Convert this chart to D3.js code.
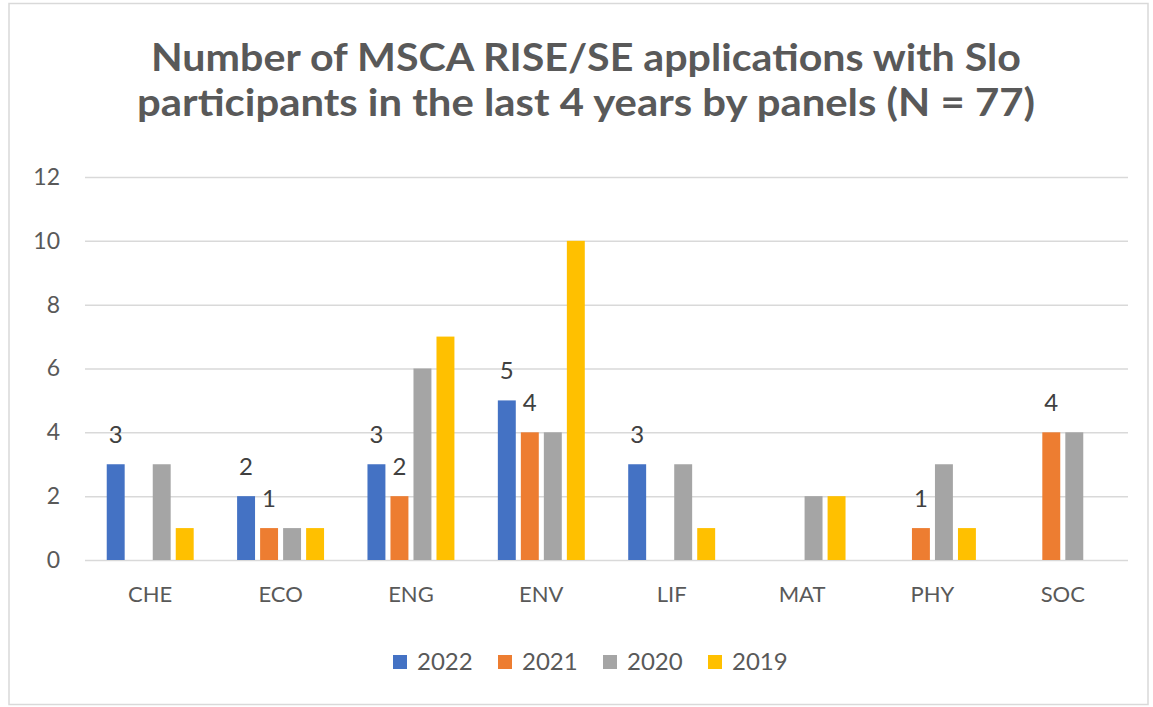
<!DOCTYPE html>
<html>
<head>
    <title>MSCA RISE/SE</title>
    <script src="https://cdn.jsdelivr.net/npm/d3@7"></script>
    <style>
        body { margin: 0; background: #fff; }
        text { font-family: Lato, "Open Sans", sans-serif; }
    </style>
</head>
<body>
    <svg width="1153" height="707" id="mainsvg"></svg>
    <script>
        // data
        const panels = ['CHE', 'ECO', 'ENG', 'ENV', 'LIF', 'MAT', 'PHY', 'SOC'];
        const years = ['2022', '2021', '2020', '2019'];
        const v2022 = [3, 2, 3, 5, 3, 0, 0, 0];
        const v2021 = [0, 1, 2, 4, 0, 0, 1, 4];
        const v2020 = [3, 1, 6, 4, 3, 2, 3, 4];
        const v2019 = [1, 1, 7, 10, 1, 2, 1, 0];
        const yTicks = [0, 2, 4, 6, 8, 10, 12];
        const labelled = ['2022', '2021']; // only these series carry data labels
        const titleLines = ['Number of MSCA RISE/SE applications with Slo',
                            'participants in the last 4 years by panels (N = 77)'];

        const colors = { '2022': '#4472C4', '2021': '#ED7D31', '2020': '#A5A5A5', '2019': '#FFC000' };
        const seriesVals = { '2022': v2022, '2021': v2021, '2020': v2020, '2019': v2019 };

        const svg = d3.select('#mainsvg');
        const width = +svg.attr('width');
        const height = +svg.attr('height');

        // chart border
        svg.append('rect')
            .attr('x', 9).attr('y', 3.5)
            .attr('width', 1139).attr('height', 701)
            .attr('fill', '#fff')
            .attr('stroke', '#d9d9d9').attr('stroke-width', 1.5);

        // title
        const titleW = [870, 898];
        const titleY = [71, 116];
        titleLines.forEach((t, i) => {
            svg.append('text')
                .attr('x', 586).attr('y', titleY[i])
                .attr('text-anchor', 'middle')
                .attr('font-size', 38).attr('font-weight', 'bold')
                .attr('fill', '#595959')
                .attr('textLength', titleW[i])
                .attr('lengthAdjust', 'spacingAndGlyphs')
                .text(t);
        });

        const plotL = 85, plotR = 1128, plotT = 177, plotB = 560;

        const x0 = d3.scaleBand().domain(panels).range([plotL, plotR])
            .paddingInner(0.333).paddingOuter(0.1667);
        const x1 = d3.scaleBand().domain(years).range([0, x0.bandwidth()])
            .paddingInner(0.22);
        const y = d3.scaleLinear().domain([0, 12]).range([plotB, plotT]);

        // gridlines + y labels
        const yAxis = d3.axisLeft(y).tickValues(yTicks).tickSize(-(plotR - plotL)).tickPadding(25);
        const yg = svg.append('g').attr('transform', `translate(${plotL},0)`).call(yAxis);
        yg.select('.domain').remove();
        yg.selectAll('.tick line').attr('stroke', '#d9d9d9').attr('stroke-width', 1.5);
        yg.selectAll('.tick text').attr('font-size', 23).attr('fill', '#595959')
            .style('font-family', 'Lato, sans-serif');

        // x labels
        const xAxis = d3.axisBottom(x0).tickSize(0).tickPadding(26);
        const xg = svg.append('g').attr('transform', `translate(0,${plotB})`).call(xAxis);
        xg.select('.domain').remove();
        xg.selectAll('.tick text').attr('font-size', 22).attr('fill', '#595959')
            .style('font-family', 'Lato, sans-serif');

        // bars
        const rows = panels.map((p, i) => ({
            panel: p,
            items: years.map(yr => ({ year: yr, value: seriesVals[yr][i] }))
        }));

        const groups = svg.append('g').selectAll('g').data(rows).join('g')
            .attr('transform', d => `translate(${x0(d.panel)},0)`);

        groups.selectAll('rect').data(d => d.items.filter(e => e.value > 0)).join('rect')
            .attr('x', d => x1(d.year))
            .attr('y', d => y(d.value))
            .attr('width', x1.bandwidth())
            .attr('height', d => y(0) - y(d.value))
            .attr('fill', d => colors[d.year]);

        groups.selectAll('text.lbl')
            .data(d => d.items.filter(e => e.value > 0 && labelled.includes(e.year)))
            .join('text').attr('class', 'lbl')
            .attr('x', d => x1(d.year) + x1.bandwidth() / 2)
            .attr('y', d => y(d.value) - 21)
            .attr('text-anchor', 'middle')
            .attr('font-size', 24).attr('fill', '#404040')
            .text(d => d.value);

        // legend
        const legend = svg.append('g').attr('transform', 'translate(393,655)');
        const li = legend.selectAll('g').data(years).join('g')
            .attr('transform', (d, i) => `translate(${i * 105},0)`);
        li.append('rect').attr('width', 14).attr('height', 14)
            .attr('fill', d => colors[d]);
        li.append('text').attr('x', 24).attr('y', 15)
            .attr('font-size', 24).attr('fill', '#595959')
            .text(d => d);
    </script>
</body>
</html>
